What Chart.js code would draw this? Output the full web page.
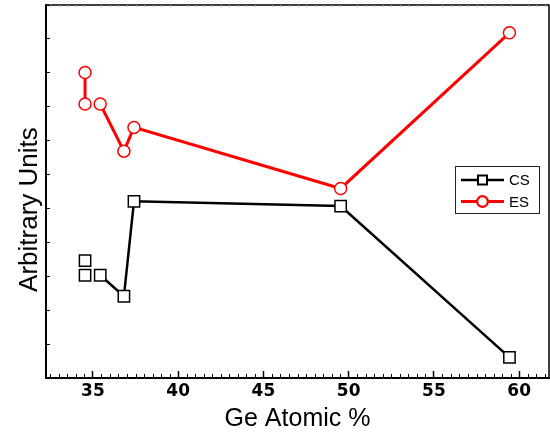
<!DOCTYPE html>
<html>
<head>
<meta charset="utf-8">
<script src="https://cdn.jsdelivr.net/npm/chart.js@4/dist/chart.umd.min.js"></script>
<style>
  body { margin: 0; background: #fff; }
  #wrap { width: 550px; height: 436px; }
</style>
</head>
<body>
<div id="wrap"><canvas id="grafico" width="550" height="436"></canvas></div>
<script>
// datos
const geX = [34.54, 34.54, 35.43, 36.82, 37.41, 49.53, 59.43];
const csY = [3.46, 3.03, 3.03, 2.41, 5.21, 5.07, 0.61];
const esY = [9.01, 8.08, 8.08, 6.69, 7.39, 5.59, 10.18];
// segmentos sin linea (indice del punto de inicio)
const csHuecos = [0, 1];
const esHuecos = [1];

const xMin = 32.25, xMax = 61.75;
const yMin = 0, yMax = 11;
const xPaso = 5, xPasoMenor = 0.5;

const puntos = (ys) => ys.map((y, i) => ({ x: geX[i], y: y }));

// sin relleno automatico de chart.js alrededor de los ejes
const sinPadding = (s) => {
  s.paddingLeft = 0; s.paddingRight = 0; s.paddingTop = 0; s.paddingBottom = 0;
};

// marco arriba/derecha y marcas menores del eje x
const marco = {
  id: 'marco',
  afterDraw (chart) {
    const ctx = chart.ctx;
    const x = chart.scales.x;
    const { top, bottom, left, right } = chart.chartArea;
    ctx.save();
    ctx.strokeStyle = '#000';
    ctx.lineWidth = 1.5;
    ctx.beginPath();
    ctx.moveTo(left, top);
    ctx.lineTo(right, top);
    ctx.lineTo(right, bottom);
    ctx.stroke();
    for (let v = Math.ceil(xMin / xPasoMenor) * xPasoMenor; v < xMax; v += xPasoMenor) {
      if (Math.abs(v / xPaso - Math.round(v / xPaso)) < 1e-6) continue;
      const px = Math.round(x.getPixelForValue(v)) + 0.5;
      ctx.strokeStyle = '#000';
      ctx.lineWidth = 1;
      ctx.beginPath();
      ctx.moveTo(px, bottom);
      ctx.lineTo(px, bottom - 4);
      ctx.stroke();
      ctx.strokeStyle = '#aaa';
      ctx.beginPath();
      ctx.moveTo(px, top);
      ctx.lineTo(px, top + 2);
      ctx.stroke();
    }
    ctx.restore();
  }
};

// leyenda dentro del area, con linea + marcador
const leyenda = {
  id: 'leyenda',
  afterDraw (chart) {
    const ctx = chart.ctx;
    ctx.save();
    ctx.fillStyle = '#fff';
    ctx.fillRect(455.5, 166.5, 84, 47);
    ctx.strokeStyle = '#222';
    ctx.lineWidth = 1;
    ctx.strokeRect(455.5, 166.5, 84, 47);
    const filas = [180, 201.5];
    chart.data.datasets.forEach((ds, i) => {
      const y = filas[i];
      ctx.strokeStyle = ds.borderColor;
      ctx.lineWidth = ds.borderWidth;
      ctx.beginPath();
      ctx.moveTo(461, y);
      ctx.lineTo(504, y);
      ctx.stroke();
      Chart.helpers.drawPoint(ctx, {
        pointStyle: ds.pointStyle,
        radius: ds.pointStyle === 'rect' ? 6 : 5,
        borderWidth: ds.pointBorderWidth,
        rotation: 0
      }, 482.5, y);
      ctx.fillStyle = '#fff';
      ctx.strokeStyle = ds.pointBorderColor;
      ctx.lineWidth = ds.pointBorderWidth;
      ctx.fill();
      ctx.stroke();
      ctx.fillStyle = '#000';
      ctx.font = '15px "Liberation Sans", Arial, sans-serif';
      ctx.textBaseline = 'middle';
      ctx.fillText(ds.label, 509, y + 1);
    });
    ctx.restore();
  }
};

const grafico = new Chart(document.getElementById('grafico'), {
  type: 'line',
  data: {
    datasets: [
      {
        label: 'CS',
        data: puntos(csY),
        borderColor: '#000',
        borderWidth: 2.5,
        pointStyle: 'rect',
        pointRadius: 8,
        pointBorderWidth: 1.5,
        pointBorderColor: '#000',
        pointBackgroundColor: '#fff',
        segment: { borderColor: c => csHuecos.includes(c.p0DataIndex) ? 'rgba(0,0,0,0)' : undefined }
      },
      {
        label: 'ES',
        data: puntos(esY),
        borderColor: '#ff0000',
        borderWidth: 3,
        pointStyle: 'circle',
        pointRadius: 6,
        pointBorderWidth: 1.5,
        pointBorderColor: '#ff0000',
        pointBackgroundColor: '#fff',
        segment: { borderColor: c => esHuecos.includes(c.p0DataIndex) ? 'rgba(0,0,0,0)' : undefined }
      }
    ]
  },
  options: {
    responsive: false,
    animation: false,
    layout: { autoPadding: false, padding: { top: 5, right: 1, left: 0, bottom: 0 } },
    plugins: { legend: { display: false }, tooltip: { enabled: false } },
    scales: {
      x: {
        type: 'linear',
        position: 'bottom',
        min: xMin, max: xMax,
        afterFit: s => { s.height = 58; sinPadding(s); },
        border: { color: '#000', width: 2 },
        grid: { drawOnChartArea: false, tickLength: -7, tickColor: '#000', tickWidth: 1.5 },
        ticks: {
          stepSize: xPaso,
          autoSkip: false,
          maxRotation: 0,
          includeBounds: false,
          padding: 10,
          color: '#000',
          font: { family: '"DejaVu Sans", sans-serif', size: 17, weight: 'bold' }
        },
        title: {
          display: true,
          text: 'Ge Atomic %',
          color: '#000',
          padding: { top: 0, bottom: 2 },
          font: { family: '"Liberation Sans", Arial, sans-serif', size: 25 }
        }
      },
      y: {
        type: 'linear',
        position: 'left',
        min: yMin, max: yMax,
        afterFit: s => { s.width = 46; sinPadding(s); },
        border: { color: '#000', width: 2 },
        grid: { drawOnChartArea: false, tickLength: -4, tickColor: '#000', tickWidth: 1 },
        ticks: { display: false, stepSize: 1 },
        title: {
          display: true,
          text: 'Arbitrary Units     ',
          color: '#000',
          padding: { top: 14, bottom: 0 },
          font: { family: '"Liberation Sans", Arial, sans-serif', size: 26 }
        }
      }
    }
  },
  plugins: [marco, leyenda]
});
</script>
</body>
</html>
